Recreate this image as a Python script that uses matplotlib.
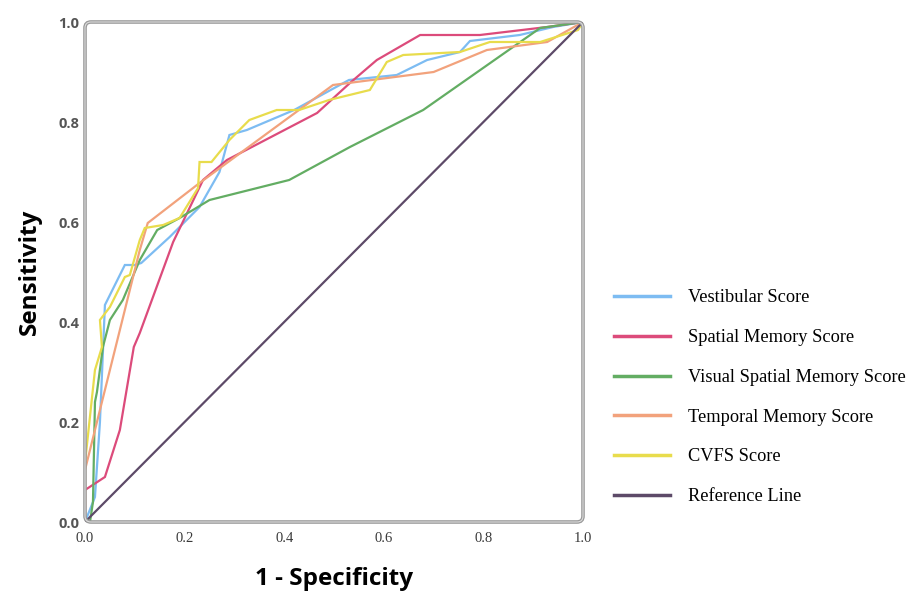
import matplotlib
matplotlib.use("Agg")
import matplotlib.pyplot as plt
from matplotlib.patches import FancyBboxPatch

# ---- data ----
vest_x = [0.0, 0.02, 0.03, 0.04, 0.08, 0.10, 0.113, 0.17, 0.23, 0.27, 0.29, 0.325, 0.42, 0.53, 0.626, 0.687, 0.753, 0.773, 0.873, 0.94, 1.0]
vest_y = [0.0, 0.05, 0.20, 0.434, 0.514, 0.514, 0.518, 0.57, 0.63, 0.70, 0.774, 0.784, 0.824, 0.884, 0.894, 0.924, 0.94, 0.962, 0.974, 0.99, 1.0]

spat_x = [0.0, 0.0, 0.04, 0.07, 0.098, 0.11, 0.177, 0.237, 0.285, 0.466, 0.532, 0.586, 0.673, 0.793, 0.928, 1.0]
spat_y = [0.0, 0.064, 0.09, 0.184, 0.35, 0.378, 0.56, 0.684, 0.724, 0.818, 0.878, 0.924, 0.974, 0.974, 0.99, 1.0]

visu_x = [0.0, 0.01, 0.016, 0.02, 0.024, 0.036, 0.05, 0.076, 0.11, 0.145, 0.19, 0.25, 0.41, 0.532, 0.679, 0.914, 1.0]
visu_y = [0.0, 0.0, 0.04, 0.24, 0.26, 0.35, 0.404, 0.444, 0.524, 0.584, 0.608, 0.644, 0.684, 0.75, 0.824, 0.988, 1.0]

temp_x = [0.0, 0.0, 0.064, 0.11, 0.126, 0.23, 0.498, 0.70, 0.807, 0.928, 1.0]
temp_y = [0.0, 0.104, 0.36, 0.544, 0.598, 0.678, 0.874, 0.90, 0.944, 0.96, 1.0]

cvfs_x = [0.0, 0.0, 0.02, 0.034, 0.03, 0.05, 0.08, 0.09, 0.11, 0.12, 0.157, 0.19, 0.227, 0.23, 0.254, 0.29, 0.33, 0.385, 0.43, 0.49, 0.572, 0.606, 0.639, 0.753, 0.813, 0.914, 0.99, 1.0]
cvfs_y = [0.0, 0.118, 0.304, 0.35, 0.404, 0.43, 0.49, 0.494, 0.564, 0.588, 0.594, 0.608, 0.668, 0.72, 0.72, 0.764, 0.804, 0.824, 0.824, 0.844, 0.864, 0.92, 0.934, 0.94, 0.96, 0.96, 0.984, 1.0]

ref_x = [0.0, 1.0]
ref_y = [0.0, 1.0]

labels = ["Vestibular Score", "Spatial Memory Score", "Visual Spatial Memory Score",
          "Temporal Memory Score", "CVFS Score", "Reference Line"]
colors = ["#7dbcf2", "#dc4b7b", "#63ad63", "#f2a27c", "#e8dc4c", "#5d4a68"]
ticks = [0.0, 0.2, 0.4, 0.6, 0.8, 1.0]
tick_labels = ["0.0", "0.2", "0.4", "0.6", "0.8", "1.0"]

fig = plt.figure(figsize=(9.15, 5.92), dpi=100)
ax = fig.add_axes([85/915, 70/592, 498/915, 500/592])

series = [(vest_x, vest_y), (spat_x, spat_y), (visu_x, visu_y),
          (temp_x, temp_y), (cvfs_x, cvfs_y), (ref_x, ref_y)]
handles = []
for (xs, ys), lab, c in zip(series, labels, colors):
    h, = ax.plot(xs, ys, color=c, lw=1.6, label=lab, solid_joinstyle="miter")
    handles.append(h)

ax.set_xlim(0, 1)
ax.set_ylim(0, 1)
ax.set_xticks(ticks)
ax.set_xticklabels(tick_labels, family="Liberation Serif", fontsize=10.5, color="#3a3a3a")
ax.set_yticks(ticks)
ax.set_yticklabels(tick_labels, family="Open Sans", fontsize=10.5, fontweight="bold", color="#555555")
ax.tick_params(axis="x", length=0, pad=7)
ax.tick_params(axis="y", length=0, pad=4)
for s in ax.spines.values():
    s.set_visible(False)

# rounded gray frame
frame = FancyBboxPatch((0, 0), 1, 1, boxstyle="round,pad=0.0,rounding_size=0.012",
                       transform=ax.transAxes, fill=False, ec="#9a9a9a", lw=2.6,
                       clip_on=False, zorder=5)
ax.add_patch(frame)
frame2 = FancyBboxPatch((0, 0), 1, 1, boxstyle="round,pad=0.0,rounding_size=0.012",
                        transform=ax.transAxes, fill=False, ec="#dcdcdc", lw=0.8,
                        clip_on=False, zorder=6)
ax.add_patch(frame2)

ax.set_xlabel("1 - Specificity", family="Open Sans", fontsize=17.5, fontweight="bold", labelpad=16)
ax.set_ylabel("Sensitivity", family="Open Sans", fontsize=17.5, fontweight="bold", labelpad=12)

leg = fig.legend(handles=handles, labels=labels, loc="upper left",
                 bbox_to_anchor=(597/915, 1 - 273/592), frameon=False,
                 prop={"family": "Liberation Serif", "size": 13.2},
                 handlelength=3.1, handletextpad=0.95, labelspacing=1.24)
for lh in leg.get_lines():
    lh.set_linewidth(2.5)

fig.savefig("out.png", dpi=100)
